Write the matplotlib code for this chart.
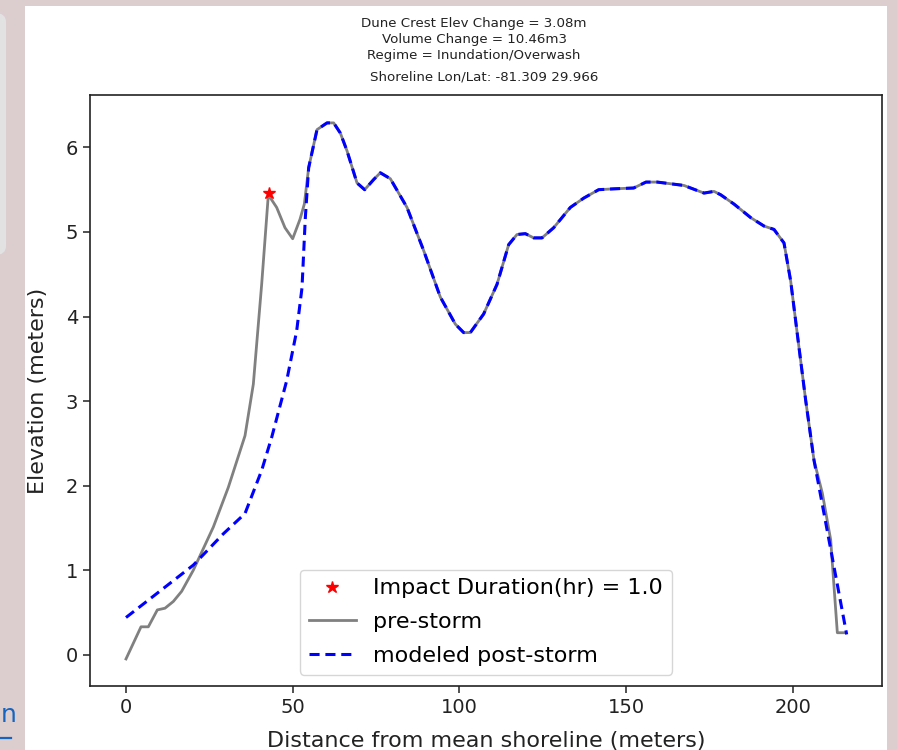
import matplotlib
matplotlib.use("Agg")
import matplotlib.pyplot as plt
from matplotlib.patches import Rectangle, FancyBboxPatch
from matplotlib.lines import Line2D

# ---- data ----
pre_front_x = [0, 4.5, 6.7, 9.4, 11.7, 14.2, 16.7, 20.2, 26.2, 30.7, 35.7, 38.2,
               40.7, 42.7, 45.2, 47.7, 50.0, 52.2, 53.5]
pre_front_y = [-0.05, 0.33, 0.33, 0.53, 0.55, 0.63, 0.75, 1.0, 1.51, 1.98, 2.59, 3.2,
               4.38, 5.44, 5.29, 5.05, 4.92, 5.15, 5.33]

post_front_x = [0, 20.2, 29.2, 35.7, 40.7, 43.7, 48.2, 51.2, 52.8, 53.8]
post_front_y = [0.44, 1.06, 1.43, 1.67, 2.18, 2.57, 3.24, 3.83, 4.34, 5.17]

common_x = [54.8, 57.3, 60.3, 62.3, 64.3, 66.3, 69.3, 71.6, 74.3, 76.3, 79.3, 84.3,
            89.3, 94.3, 98.8, 101.3, 103.3, 107.3, 111.3, 114.8, 117.3, 119.8, 122.3,
            124.8, 128.3, 133.3, 137.3, 141.8, 146.3, 152.3, 156.0, 159.4, 163.4,
            167.4, 173.4, 176.4, 178.4, 182.4, 187.4, 191.4, 194.4, 197.4, 199.4,
            201.4, 203.9, 206.4]
common_y = [5.76, 6.21, 6.29, 6.29, 6.17, 5.96, 5.58, 5.50, 5.62, 5.70, 5.63, 5.29,
            4.78, 4.23, 3.91, 3.81, 3.81, 4.03, 4.38, 4.85, 4.97, 4.98, 4.93,
            4.93, 5.05, 5.29, 5.40, 5.50, 5.51, 5.52, 5.59, 5.59, 5.57,
            5.55, 5.46, 5.48, 5.44, 5.33, 5.17, 5.07, 5.03, 4.87, 4.42,
            3.79, 3.01, 2.30]

pre_back_x = [208.9, 211.4, 213.4, 215.9]
pre_back_y = [1.91, 1.36, 0.26, 0.26]

post_back_x = [211.4, 216.2]
post_back_y = [1.25, 0.24]

star_x = [43.0]
star_y = [5.46]

title_lines = ["Dune Crest Elev Change = 3.08m",
               "Volume Change = 10.46m3",
               "Regime = Inundation/Overwash"]
subtitle = "Shoreline Lon/Lat: -81.309 29.966"
legend_labels = ["Impact Duration(hr) = 1.0", "pre-storm", "modeled post-storm"]

pre_x = pre_front_x + common_x + pre_back_x
pre_y = pre_front_y + common_y + pre_back_y
post_x = post_front_x + common_x + post_back_x
post_y = post_front_y + common_y + post_back_y

W, H = 897, 750
fig = plt.figure(figsize=(W / 100, H / 100), dpi=100)
fig.patch.set_facecolor("#dccdcf")

# white figure panel of the screenshot
fig.patches.append(Rectangle((25 / W, 0), (887 - 25) / W, (750 - 6) / H,
                             transform=fig.transFigure, facecolor="white",
                             edgecolor="none", zorder=-10))
# grey page element on the left
fig.patches.append(FancyBboxPatch((-20 / W, (750 - 255) / H), 26 / W, 242 / H,
                                  boxstyle="round,pad=0,rounding_size=0.012",
                                  transform=fig.transFigure, facecolor="#e2e2e2",
                                  edgecolor="none", zorder=-10))
fig.text(0.5 / W, (750 - 722) / H, "n", color="#1565c0", fontsize=18,
         ha="left", va="baseline")
fig.lines.append(Line2D([0, 11 / W], [(750 - 738) / H] * 2, transform=fig.transFigure,
                        color="#1565c0", lw=1.6, zorder=-5))

ax = fig.add_axes([90 / W, (750 - 686) / H, (882 - 90) / W, (686 - 95) / H])
ax.set_zorder(5)

ax.plot(pre_x, pre_y, color="gray", lw=2.0, zorder=2)
ax.plot(post_x, post_y, color="blue", ls="--", lw=2.2, dashes=(3.3, 1.9), zorder=3)
ax.plot(star_x, star_y, "r*", ms=9, zorder=4)

ax.set_xlim(-10.8, 226.8)
ax.set_ylim(-0.37, 6.62)
ax.set_xticks([0, 50, 100, 150, 200])
ax.set_yticks([0, 1, 2, 3, 4, 5, 6])
ax.tick_params(labelsize=14, length=5, width=1.1, colors="#222222")
for s in ax.spines.values():
    s.set_linewidth(1.2)
    s.set_color("#222222")
ax.set_xlabel("Distance from mean shoreline (meters)", fontsize=16, color="#222222",
              labelpad=10)
ax.set_ylabel("Elevation (meters)", fontsize=16, color="#222222", labelpad=13)

handles = [Line2D([], [], color="red", marker="*", ls="none", ms=9),
           Line2D([], [], color="gray", lw=2.0),
           Line2D([], [], color="blue", ls="--", lw=2.2, dashes=(3.3, 1.9))]
leg = ax.legend(handles, legend_labels, loc="lower center", fontsize=16,
                handlelength=2.1, borderaxespad=0.5, labelspacing=0.62,
                handletextpad=0.8, borderpad=0.4)
leg.get_frame().set_edgecolor("#cccccc")

for i, t in enumerate(title_lines):
    fig.text(474 / W, 1 - (24 + 16 * i) / H, t, ha="center", va="center",
             fontsize=9.6, color="#222222")
fig.text(484 / W, 1 - 77 / H, subtitle, ha="center", va="center",
         fontsize=9.6, color="#222222")

fig.savefig("out.png", dpi=100, facecolor=fig.get_facecolor())
